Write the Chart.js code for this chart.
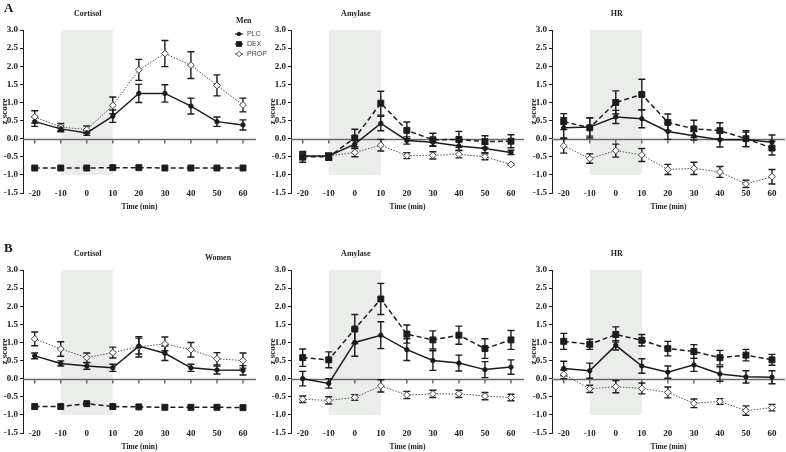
<!DOCTYPE html>
<html>
<head>
<meta charset="utf-8">
<script src="https://cdn.jsdelivr.net/npm/chart.js@4.4.0/dist/chart.umd.min.js"></script>
<style>
  body { margin: 0; width: 786px; height: 452px; overflow: hidden; background: #fff; position: relative; }
  canvas { position: absolute; }
</style>
</head>
<body>
<script>
// time points (min) and y ticks
const times = [-20, -10, 0, 10, 20, 30, 40, 50, 60];
const yMin = -1.5, yMax = 3.0;
// stress window shading
const shadeFrom = -10, shadeTo = 10, shadeTop = 3.0, shadeBottom = -1.0;

// Men - cortisol
const mcPLC = [0.47, 0.27, 0.16, 0.62, 1.25, 1.25, 0.90, 0.47, 0.38];
const mcPLCe = [0.13, 0.08, 0.07, 0.17, 0.25, 0.24, 0.22, 0.13, 0.14];
const mcDEX = [-0.81, -0.81, -0.81, -0.80, -0.80, -0.81, -0.81, -0.81, -0.81];
const mcDEXe = [0, 0, 0, 0, 0, 0, 0, 0, 0];
const mcPROP = [0.60, 0.32, 0.25, 0.92, 1.90, 2.35, 2.03, 1.47, 0.93];
const mcPROPe = [0.17, 0.10, 0.10, 0.23, 0.29, 0.36, 0.37, 0.29, 0.19];

// Men - amylase
const maPLC = [-0.48, -0.48, -0.15, 0.42, -0.05, -0.10, -0.20, -0.27, -0.38];
const maPLCe = [0.10, 0.08, 0.12, 0.20, 0.10, 0.10, 0.12, 0.12, 0.06];
const maDEX = [-0.50, -0.50, 0.02, 0.98, 0.23, -0.03, -0.02, -0.08, -0.07];
const maDEXe = [0.15, 0.10, 0.24, 0.33, 0.23, 0.18, 0.22, 0.16, 0.18];
const maPROP = [-0.48, -0.48, -0.38, -0.18, -0.47, -0.46, -0.43, -0.50, -0.71];
const maPROPe = [0.08, 0.07, 0.12, 0.16, 0.08, 0.10, 0.10, 0.08, 0.02];

// Men - HR
const mhPLC = [0.30, 0.32, 0.60, 0.55, 0.20, 0.08, -0.03, -0.02, -0.10];
const mhPLCe = [0.28, 0.25, 0.18, 0.25, 0.22, 0.12, 0.20, 0.20, 0.20];
const mhDEX = [0.47, 0.30, 1.00, 1.22, 0.45, 0.27, 0.22, 0.00, -0.26];
const mhDEXe = [0.22, 0.28, 0.32, 0.42, 0.23, 0.24, 0.22, 0.22, 0.19];
const mhPROP = [-0.20, -0.55, -0.33, -0.45, -0.85, -0.82, -0.92, -1.25, -1.05];
const mhPROPe = [0.20, 0.13, 0.18, 0.18, 0.14, 0.17, 0.15, 0.10, 0.20];

// Women - cortisol
const wcPLC = [0.63, 0.42, 0.35, 0.30, 0.90, 0.70, 0.30, 0.24, 0.23];
const wcPLCe = [0.08, 0.07, 0.09, 0.10, 0.22, 0.20, 0.10, 0.11, 0.13];
const wcDEX = [-0.77, -0.77, -0.69, -0.77, -0.78, -0.79, -0.79, -0.79, -0.80];
const wcDEXe = [0, 0, 0, 0, 0, 0, 0, 0, 0];
const wcPROP = [1.10, 0.82, 0.58, 0.72, 0.88, 0.96, 0.80, 0.55, 0.50];
const wcPROPe = [0.19, 0.20, 0.13, 0.15, 0.28, 0.19, 0.20, 0.17, 0.21];

// Women - amylase
const waPLC = [0.00, -0.13, 1.00, 1.20, 0.80, 0.50, 0.43, 0.25, 0.32];
const waPLCe = [0.20, 0.13, 0.38, 0.37, 0.30, 0.27, 0.22, 0.22, 0.20];
const waDEX = [0.58, 0.52, 1.37, 2.20, 1.23, 1.07, 1.20, 0.83, 1.07];
const waDEXe = [0.24, 0.22, 0.40, 0.43, 0.25, 0.25, 0.25, 0.27, 0.26];
const waPROP = [-0.57, -0.60, -0.52, -0.20, -0.45, -0.42, -0.42, -0.48, -0.52];
const waPROPe = [0.09, 0.10, 0.08, 0.17, 0.10, 0.10, 0.10, 0.10, 0.09];

// Women - HR
const whPLC = [0.28, 0.22, 0.92, 0.35, 0.18, 0.38, 0.13, 0.05, 0.04];
const whPLCe = [0.20, 0.21, 0.13, 0.20, 0.17, 0.18, 0.20, 0.17, 0.18];
const whDEX = [1.03, 0.95, 1.22, 1.06, 0.83, 0.75, 0.58, 0.65, 0.52];
const whDEXe = [0.22, 0.14, 0.21, 0.16, 0.20, 0.19, 0.20, 0.16, 0.15];
const whPROP = [0.12, -0.28, -0.22, -0.27, -0.38, -0.68, -0.63, -0.88, -0.80];
const whPROPe = [0.12, 0.10, 0.17, 0.15, 0.15, 0.12, 0.08, 0.13, 0.09];

const groups = ["PLC", "DEX", "PROP"];

// panel layout: y-axis x position and row
const panels = [
  { axisX: 23, row: 0, title: "Cortisol", letter: "A", legend: "Men", sets: [mcPLC, mcPLCe, mcDEX, mcDEXe, mcPROP, mcPROPe] },
  { axisX: 291, row: 0, title: "Amylase", sets: [maPLC, maPLCe, maDEX, maDEXe, maPROP, maPROPe] },
  { axisX: 552, row: 0, title: "HR", sets: [mhPLC, mhPLCe, mhDEX, mhDEXe, mhPROP, mhPROPe] },
  { axisX: 23, row: 1, title: "Cortisol", letter: "B", note: "Women", sets: [wcPLC, wcPLCe, wcDEX, wcDEXe, wcPROP, wcPROPe] },
  { axisX: 291, row: 1, title: "Amylase", sets: [waPLC, waPLCe, waDEX, waDEXe, waPROP, waPROPe] },
  { axisX: 552, row: 1, title: "HR", sets: [whPLC, whPLCe, whDEX, whDEXe, whPROP, whPROPe] }
];

const ink = "#1c1c1c";
const serif = "'Liberation Serif', 'DejaVu Serif', serif";

// line style per group
const styles = {
  PLC: { borderColor: ink, borderWidth: 1.5, borderDash: [], pointStyle: "circle", pointRadius: 2.2, pointBackgroundColor: ink, pointBorderColor: ink },
  DEX: { borderColor: ink, borderWidth: 1.5, borderDash: [5, 3], pointStyle: "rect", pointRadius: 4.2, pointBackgroundColor: ink, pointBorderColor: ink },
  PROP: { borderColor: "#555", borderWidth: 1, borderDash: [1.5, 1.5], pointStyle: "rectRot", pointRadius: 3.4, pointBackgroundColor: "#fff", pointBorderColor: "#444" }
};

function drawMarker(ctx, style, x, y) {
  ctx.save();
  ctx.fillStyle = style.pointBackgroundColor;
  ctx.strokeStyle = style.pointBorderColor;
  ctx.lineWidth = 1;
  ctx.setLineDash([]);
  ctx.beginPath();
  const r = style.pointRadius;
  if (style.pointStyle === "circle") {
    ctx.arc(x, y, r, 0, Math.PI * 2);
  } else if (style.pointStyle === "rect") {
    const s = r * Math.SQRT1_2;
    ctx.rect(x - s, y - s, 2 * s, 2 * s);
  } else {
    ctx.moveTo(x, y - r); ctx.lineTo(x + r, y); ctx.lineTo(x, y + r); ctx.lineTo(x - r, y); ctx.closePath();
  }
  ctx.fill();
  ctx.stroke();
  ctx.restore();
}

const panelDeco = {
  id: "panelDeco",
  beforeDatasetsDraw(chart) {
    const { ctx, chartArea: a, scales: { x, y } } = chart;
    ctx.save();
    // shaded window
    const x0 = x.getPixelForValue(shadeFrom), x1 = x.getPixelForValue(shadeTo);
    const y0 = y.getPixelForValue(shadeTop), y1 = y.getPixelForValue(shadeBottom);
    ctx.fillStyle = "#ebedeb";
    ctx.fillRect(x0, y0, x1 - x0, y1 - y0);
    // zero line with ticks
    const yz = Math.round(y.getPixelForValue(0)) + 0.5;
    ctx.strokeStyle = "#6a6a6a";
    ctx.lineWidth = 1.5;
    ctx.beginPath();
    ctx.moveTo(a.left, yz);
    ctx.lineTo(a.right, yz);
    times.forEach(t => {
      const px = x.getPixelForValue(t);
      ctx.moveTo(px, yz);
      ctx.lineTo(px, yz + 4);
    });
    ctx.stroke();
    // error bars
    ctx.strokeStyle = ink;
    ctx.lineWidth = 1.4;
    chart.data.datasets.forEach(ds => {
      ds.data.forEach((p, i) => {
        const e = ds.errors[i];
        if (!e) return;
        const px = x.getPixelForValue(p.x);
        const top = y.getPixelForValue(p.y + e), bot = y.getPixelForValue(p.y - e);
        ctx.beginPath();
        ctx.moveTo(px, top); ctx.lineTo(px, bot);
        ctx.moveTo(px - 3.5, top); ctx.lineTo(px + 3.5, top);
        ctx.moveTo(px - 3.5, bot); ctx.lineTo(px + 3.5, bot);
        ctx.stroke();
      });
    });
    ctx.restore();
  },
  afterDraw(chart, args, opts) {
    const { ctx, chartArea: a, scales: { x, y } } = chart;
    ctx.save();
    ctx.fillStyle = ink;
    ctx.textBaseline = "middle";
    // x tick labels
    ctx.textAlign = "center";
    ctx.font = "bold 9px " + serif;
    times.forEach(t => ctx.fillText(String(t), x.getPixelForValue(t), a.bottom + 1));
    // x title
    ctx.font = "bold 7.5px " + serif;
    ctx.fillText("Time (min)", (a.left + a.right) / 2, a.bottom + 14);
    // y title
    ctx.save();
    ctx.translate(a.left - 18, (a.top + a.bottom) / 2);
    ctx.rotate(-Math.PI / 2);
    ctx.font = "bold 9px " + serif;
    ctx.fillText("z score", 0, 0);
    ctx.restore();
    // panel title
    ctx.font = "bold 8px " + serif;
    ctx.fillText(opts.title, x.getPixelForValue(0) + 1, a.top - 16);
    if (opts.letter) {
      ctx.font = "bold 13px " + serif;
      ctx.textAlign = "left";
      ctx.fillText(opts.letter, a.left - 19, a.top - 21);
    }
    if (opts.note) {
      ctx.font = "bold 8px " + serif;
      ctx.textAlign = "center";
      ctx.fillText(opts.note, a.left + 195, a.top - 12);
    }
    if (opts.legend) {
      ctx.font = "bold 8px " + serif;
      ctx.textAlign = "left";
      ctx.fillText(opts.legend, a.right - 20, a.top - 9);
      groups.forEach((g, i) => {
        const st = styles[g];
        const ly = a.top + 4 + i * 10;
        const lx = a.right - 21;
        ctx.save();
        ctx.strokeStyle = st.borderColor;
        ctx.lineWidth = 1.2;
        ctx.setLineDash([]);
        ctx.beginPath();
        ctx.moveTo(lx, ly); ctx.lineTo(lx + 8, ly);
        ctx.stroke();
        ctx.restore();
        drawMarker(ctx, Object.assign({}, st, { pointRadius: st.pointRadius * 0.8 }), lx + 4, ly);
        ctx.font = "7px 'Liberation Sans', Arial, sans-serif";
        ctx.fillStyle = "#444";
        ctx.fillText(g, lx + 12, ly + 0.5);
        ctx.fillStyle = ink;
      });
    }
    ctx.restore();
  }
};

panels.forEach(p => {
  const cv = document.createElement("canvas");
  const h = p.row === 0 ? 225 : 212;
  cv.width = 280;
  cv.height = h;
  cv.style.left = (p.axisX - 30) + "px";
  cv.style.top = (p.row === 0 ? 0 : 240) + "px";
  document.body.appendChild(cv);

  const datasets = groups.map((g, i) => Object.assign({
    label: g,
    data: times.map((t, k) => ({ x: t, y: p.sets[i * 2][k] })),
    errors: p.sets[i * 2 + 1],
    fill: false,
    tension: 0,
    pointBorderWidth: 1
  }, styles[g]));

  new Chart(cv, {
    type: "line",
    data: { datasets },
    options: {
      responsive: false,
      animation: false,
      layout: { padding: { left: 0, right: 17, top: 30, bottom: h - 193 } },
      plugins: {
        legend: { display: false },
        tooltip: { enabled: false },
        panelDeco: { title: p.title, letter: p.letter, legend: p.legend, note: p.note }
      },
      scales: {
        x: {
          type: "linear",
          display: false,
          min: -24.5,
          max: 65
        },
        y: {
          min: yMin,
          max: yMax,
          afterFit: s => { s.width = 30; },
          grid: { drawOnChartArea: false, tickLength: 3, color: ink },
          border: { display: true, color: ink, width: 1 },
          ticks: {
            stepSize: 0.5,
            autoSkip: false,
            padding: 2,
            color: ink,
            font: { family: serif, weight: "bold", size: 9 },
            callback: v => v.toFixed(1)
          }
        }
      }
    },
    plugins: [panelDeco]
  });
});
</script>
</body>
</html>
